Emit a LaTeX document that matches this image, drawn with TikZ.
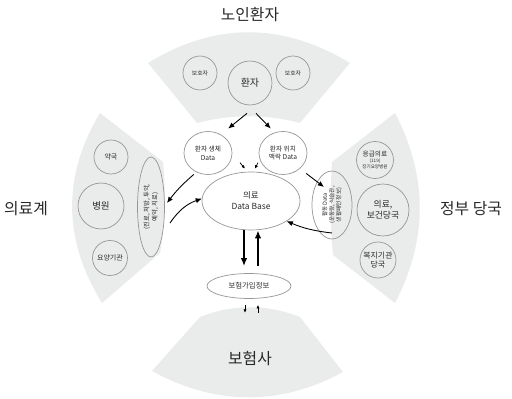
\documentclass[tikz,border=0pt]{standalone}
\usepackage{fontspec}
\setmainfont{Noto Sans CJK KR}
\usetikzlibrary{arrows.meta,positioning,calc,shapes.geometric}
\definecolor{fangray}{RGB}{234,235,235}
\definecolor{rimgray}{RGB}{150,150,150}
\definecolor{inkgray}{RGB}{40,40,40}

\begin{document}
\begin{tikzpicture}[x=0.02cm, y=-0.02cm, >={Latex[length=3.5pt,width=3pt]},
    side/.style={text=inkgray, font=\fontsize{9}{10}\selectfont},
    ring/.style={circle, draw=rimgray, line width=.4pt, inner sep=0pt, align=center, text=inkgray},
    oval/.style={ellipse, draw=rimgray, line width=.4pt, inner sep=0pt, align=center, text=inkgray},
    flow/.style={->, line width=.5pt},
    bigflow/.style={-{Latex[length=4.5pt,width=3.6pt]}, line width=.9pt},
    tiny/.style={-{Latex[length=2pt,width=1.8pt]}, line width=.4pt}]
  \useasboundingbox (0,0) rectangle (512,399);

  % four fans round the centre
  \fill[fangray] (148,63) .. controls (215,22) and (282,22) .. (350,63)
    -- (300,123) .. controls (266,114) and (232,114) .. (197,123) -- cycle;
  \fill[fangray] (100,113) .. controls (62,176) and (63,240) .. (102,303)
    -- (160,253) .. controls (165,223) and (166,193) .. (163,162) -- cycle;
  \fill[fangray] (395,113) .. controls (428,176) and (428,240) .. (395,303)
    -- (333,255) .. controls (330,224) and (330,193) .. (332,162) -- cycle;
  \fill[fangray] (200,317) .. controls (233,304) and (267,304) .. (300,317)
    -- (343,372) .. controls (280,406) and (216,406) .. (152,371) -- cycle;

  \node (elder) at (250,15) [side] {노인환자};
  \node (medic) at (26,209) [side] {의료계};
  \node (gov) at (471,209) [side] {정부 당국};
  \node (insurer) at (250,359) [side] {보험사};

  \node (guard1) at (200,73) [ring, minimum size=.68cm, font=\fontsize{3.3}{4}\selectfont] {보호자};
  \node (patient) at (250,83) [ring, minimum size=.88cm, font=\fontsize{5.7}{7}\selectfont] {환자};
  \node (guard2) at (293,73) [ring, minimum size=.68cm, font=\fontsize{3.3}{4}\selectfont] {보호자};

  \node (pharm) at (111,157) [ring, minimum size=.68cm, font=\fontsize{4}{5}\selectfont] {약국};
  \node (hosp) at (101,206) [ring, minimum size=.92cm, font=\fontsize{5.4}{6.5}\selectfont] {병원};
  \node (nursing) at (110,258) [ring, minimum size=.7cm, font=\fontsize{4}{5}\selectfont] {요양기관};

  \node (emerg) at (375,160) [ring, minimum size=.74cm, font=\fontsize{2.6}{3.2}\selectfont]
    {{\fontsize{3.8}{4.4}\selectfont 응급의료}\\(119)\\장기요양병원};
  \node (health) at (383,210) [ring, minimum size=1.04cm, font=\fontsize{5}{6.2}\selectfont] {의료,\\보건당국};
  \node (welfare) at (378,260) [ring, minimum size=.72cm, font=\fontsize{4.5}{5.5}\selectfont] {복지기관\\당국};

  \node (bio) at (208,153) [oval, minimum width=.96cm, minimum height=.86cm, font=\fontsize{3.8}{5}\selectfont] {환자 생체\\Data};
  \node (loc) at (283,153) [oval, minimum width=.96cm, minimum height=.86cm, font=\fontsize{3.8}{5}\selectfont] {환자 위치\\맥락 Data};
  \node (db) at (251,201) [oval, minimum width=1.96cm, minimum height=1.16cm, font=\fontsize{4.8}{6.2}\selectfont] {의료\\Data Base};
  \node (ins) at (249,286) [oval, minimum width=1.68cm, minimum height=.5cm, font=\fontsize{4.2}{5}\selectfont] {보험가입정보};
  \node (care) at (151,207) [oval, rotate=90, minimum width=2cm, minimum height=.54cm, font=\fontsize{3.6}{4.6}\selectfont] {(진료, 처방, 투약,\\예약, 치료)};
  \node (act) at (332,205) [oval, rotate=90, minimum width=1.36cm, minimum height=.8cm, font=\fontsize{3.2}{4}\selectfont] {활동 Data\\(운동량, 식습관,\\생활패턴 정보)};

  \draw[flow] ($(patient.south)+(-3,8)$) -- ($(bio.north east)+(3,-9)$);
  \draw[flow] ($(patient.south)+(6,8)$) -- ($(loc.north west)+(5,-9)$);
  \draw[flow] ($(bio.south west)+(3,6)$) to[bend right=6] ($(care.center)+(16,-4)$);
  \draw[flow] ($(care.center)+(19,16)$) to[bend left=18] (db);
  \draw[flow] ($(loc.south east)+(6,5)$) -- ($(act.center)+(-8,-18)$);
  \draw[flow] ($(act.center)+(0,28)$) to[bend left=8] (db);
  \draw[tiny] ($(db.north)+(-11,-9)$) -- ($(db.north)+(-6,-3)$);
  \draw[tiny] ($(db.north)+(7,-9)$) -- ($(db.north)+(4,-3)$);
  \draw[bigflow] ($(db.south)+(-7,0)$) -- ($(ins.north)+(-5,-7)$);
  \draw[bigflow] ($(ins.north)+(9,-7)$) -- ($(db.south)+(7,0)$);
  \draw[tiny] ($(ins.south)+(-4,6)$) -- ($(ins.south)+(-4,14)$);
  \draw[tiny] ($(ins.south)+(9,14)$) -- ($(ins.south)+(9,6)$);
\end{tikzpicture}
\end{document}
